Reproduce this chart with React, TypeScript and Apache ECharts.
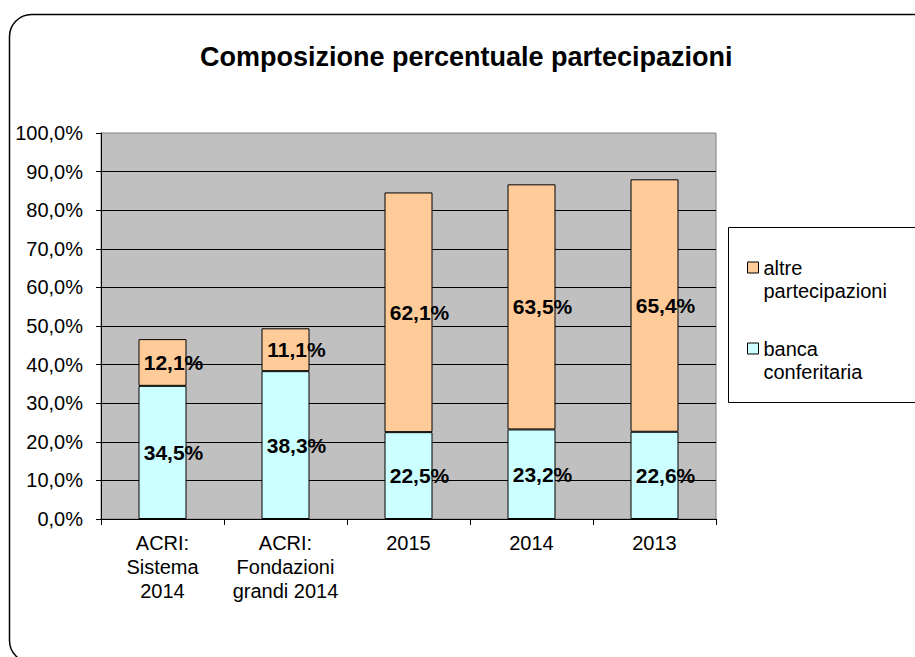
import React, { useEffect, useRef } from 'react';
import * as echarts from 'echarts';

const chartTitle = 'Composizione percentuale partecipazioni';
const categories = ['ACRI:\nSistema\n2014', 'ACRI:\nFondazioni\ngrandi 2014', '2015', '2014', '2013'];
const bancaConferitaria = [34.5, 38.3, 22.5, 23.2, 22.6];
const altrePartecipazioni = [12.1, 11.1, 62.1, 63.5, 65.4];
const seriesNames = ['banca conferitaria', 'altre partecipazioni'];
const legendOrder = ['altre partecipazioni', 'banca conferitaria'];
const yMin = 0;
const yMax = 100;
const yInterval = 10;

const FONT = '"Liberation Sans", Arial, sans-serif';
const fmt = (v: number) => v.toFixed(1).replace('.', ',') + '%';

export default function App() {
  const ref = useRef<HTMLDivElement>(null);
  useEffect(() => {
    if (!ref.current) return;
    const chart = echarts.init(ref.current, undefined, { renderer: 'svg' });
    const label = {
      show: true,
      position: 'inside',
      offset: [11, 0],
      fontSize: 21,
      fontWeight: 'bold',
      color: '#000',
      fontFamily: FONT,
      formatter: (p: any) => fmt(p.value),
    };
    chart.setOption({
      animation: false,
      backgroundColor: '#fff',
      textStyle: { fontFamily: FONT, color: '#000' },
      title: {
        text: chartTitle,
        left: 200,
        top: 43,
        padding: 0,
        textStyle: { fontSize: 27, fontWeight: 'bold', color: '#000', fontFamily: FONT },
      },
      graphic: [
        {
          type: 'rect',
          z: 0,
          shape: { x: 9.5, y: 14.5, width: 1000, height: 648, r: 22 },
          style: { fill: 'none', stroke: '#000', lineWidth: 1.5 },
        },
        {
          type: 'rect',
          z: 0,
          shape: { x: 728.5, y: 227.5, width: 300, height: 175 },
          style: { fill: '#fff', stroke: '#000', lineWidth: 1 },
        },
      ],
      legend: {
        orient: 'vertical',
        left: 747,
        top: 233,
        padding: 0,
        itemWidth: 11,
        itemHeight: 11,
        itemGap: 12,
        icon: 'rect',
        data: legendOrder,
        formatter: (name: string) => '\n' + name.replace(' ', '\n'),
        itemStyle: { borderColor: '#000', borderWidth: 1 },
        textStyle: { fontSize: 20, lineHeight: 23, color: '#000', fontFamily: FONT },
      },
      grid: {
        left: 101,
        right: 199,
        top: 133,
        bottom: 138,
        show: true,
        backgroundColor: '#C0C0C0',
        borderColor: '#808080',
        borderWidth: 1,
        containLabel: false,
        outerBoundsMode: 'none',
      },
      xAxis: {
        type: 'category',
        data: categories,
        axisLine: { show: true, lineStyle: { color: '#000', width: 1 } },
        axisTick: { show: true, alignWithLabel: false, length: 6, lineStyle: { color: '#000' } },
        axisLabel: { interval: 0, fontSize: 20, lineHeight: 24, margin: 12, color: '#000', fontFamily: FONT },
        splitLine: { show: false },
      },
      yAxis: {
        type: 'value',
        min: yMin,
        max: yMax,
        interval: yInterval,
        axisLine: { show: true, lineStyle: { color: '#000', width: 1 } },
        axisTick: { show: true, length: 5, lineStyle: { color: '#000' } },
        axisLabel: { fontSize: 20, margin: 18, color: '#000', fontFamily: FONT, formatter: (v: number) => fmt(v) },
        splitLine: { show: true, showMaxLine: false, showMinLine: false, lineStyle: { color: '#000', width: 1 } },
      },
      series: [
        {
          name: seriesNames[0],
          type: 'bar',
          stack: 'total',
          barWidth: 48,
          data: bancaConferitaria,
          itemStyle: { color: '#CCFFFF', borderColor: '#000', borderWidth: 1 },
          label,
        },
        {
          name: seriesNames[1],
          type: 'bar',
          stack: 'total',
          barWidth: 48,
          data: altrePartecipazioni,
          itemStyle: { color: '#FFCC99', borderColor: '#000', borderWidth: 1 },
          label,
        },
      ],
    });
    return () => chart.dispose();
  }, []);
  return (
    <div
      ref={ref}
      style={{ position: 'fixed', left: 0, top: 0, width: 915, height: 657, background: '#fff' }}
    />
  );
}
